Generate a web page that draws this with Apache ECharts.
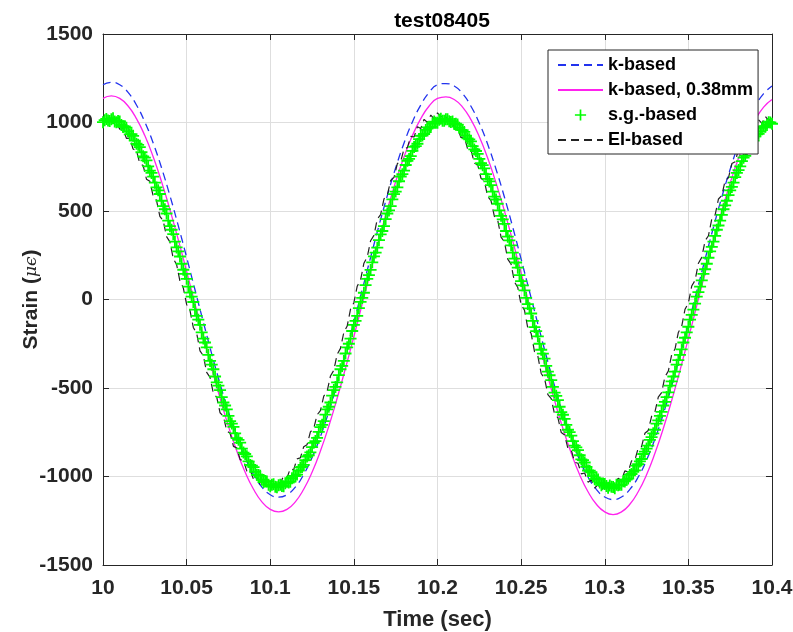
<!DOCTYPE html>
<html>
<head>
<meta charset="utf-8">
<script src="https://cdn.jsdelivr.net/npm/echarts@6/dist/echarts.min.js"></script>
<style>
  html, body { margin: 0; padding: 0; background: #fff; }
  #main { width: 793px; height: 632px; }
</style>
</head>
<body>
<div id="main"></div>
<script>
// tick labels
var xTicks = [10, 10.05, 10.1, 10.15, 10.2, 10.25, 10.3, 10.35, 10.4];
var yTicks = [-1500, -1000, -500, 0, 500, 1000, 1500];

// k-based curves, sampled every 0.005 s from 10.000 to 10.400
var kBased = [1213, 1227, 1213, 1170, 1099, 1003, 884, 744, 587, 417,
    238, 55, -128, -307, -477, -634, -774, -893, -989, -1060,
    -1103, -1117, -1103, -1060, -989, -893, -774, -634, -477, -307,
    -128, 55, 238, 417, 587, 744, 884, 1003, 1099, 1170,
    1213, 1220, 1206, 1163, 1092, 996, 877, 736, 579, 408,
    228, 45, -138, -318, -489, -647, -788, -907, -1003, -1073,
    -1116, -1130, -1116, -1073, -1003, -907, -788, -647, -489, -318,
    -138, 45, 228, 408, 579, 736, 877, 996, 1092, 1163, 1206];

var kBased038 = [1136, 1150, 1136, 1093, 1022, 926, 806, 666, 508, 338,
    159, -25, -209, -388, -558, -716, -856, -976, -1072, -1143,
    -1186, -1200, -1186, -1143, -1072, -976, -856, -716, -558, -388,
    -209, -25, 159, 338, 508, 666, 806, 926, 1022, 1093,
    1136, 1145, 1130, 1087, 1016, 920, 799, 659, 501, 330,
    150, -35, -220, -400, -571, -729, -869, -990, -1086, -1157,
    -1200, -1215, -1200, -1157, -1086, -990, -869, -729, -571, -400,
    -220, -35, 150, 330, 501, 659, 799, 920, 1016, 1087, 1130];

// s.g. based, sampled every 0.001 s from 10.000 to 10.400
var sgBased = [1002, 1013, 1020, 1011, 1009, 1018, 1024, 1006, 1001, 1008,
    1006, 986, 975, 978, 971, 950, 933, 934, 925, 898,
    880, 874, 861, 832, 809, 801, 786, 752, 728, 715,
    694, 660, 633, 617, 596, 558, 528, 510, 486, 446,
    414, 394, 369, 327, 294, 272, 243, 202, 168, 145,
    117, 73, 39, 16, -14, -57, -92, -114, -143, -186,
    -221, -243, -270, -313, -347, -368, -394, -435, -468, -487,
    -512, -551, -582, -599, -621, -658, -687, -701, -720, -756,
    -783, -793, -809, -842, -865, -873, -886, -915, -935, -939,
    -947, -974, -990, -991, -996, -1018, -1031, -1027, -1028, -1046,
    -1055, -1047, -1044, -1058, -1061, -1050, -1046, -1054, -1055, -1038,
    -1030, -1034, -1029, -1010, -997, -998, -989, -966, -949, -946,
    -934, -907, -887, -880, -864, -834, -810, -800, -782, -748,
    -721, -708, -687, -650, -621, -606, -582, -543, -512, -494,
    -468, -427, -394, -375, -347, -305, -270, -250, -221, -178,
    -143, -121, -92, -49, -13, 9, 38, 81, 117, 138,
    167, 210, 244, 265, 293, 335, 368, 387, 414, 454,
    486, 503, 528, 566, 595, 610, 633, 668, 695, 708,
    728, 760, 784, 794, 810, 840, 862, 867, 880, 906,
    924, 926, 935, 958, 972, 970, 975, 994, 1005, 998,
    999, 1015, 1021, 1010, 1010, 1019, 1018, 1007, 1003, 1006,
    992, 993, 988, 970, 958, 957, 947, 926, 910, 905,
    893, 867, 848, 839, 823, 794, 770, 759, 741, 708,
    682, 667, 646, 610, 581, 565, 541, 503, 473, 453,
    427, 387, 355, 334, 306, 265, 231, 209, 180, 138,
    104, 80, 51, 9, -26, -50, -79, -121, -156, -179,
    -208, -250, -284, -306, -334, -375, -408, -428, -455, -494,
    -526, -544, -569, -606, -636, -651, -674, -708, -736, -749,
    -769, -800, -826, -835, -851, -880, -903, -908, -921, -946,
    -966, -967, -976, -998, -1015, -1011, -1017, -1034, -1049, -1039,
    -1042, -1054, -1064, -1051, -1058, -1060, -1066, -1047, -1050, -1046,
    -1047, -1027, -1028, -1018, -1012, -991, -986, -974, -965, -939,
    -930, -915, -901, -873, -860, -842, -825, -793, -777, -756,
    -736, -701, -683, -658, -635, -599, -578, -551, -525, -487,
    -463, -435, -407, -368, -342, -313, -282, -243, -216, -186,
    -154, -114, -87, -57, -23, 16, 42, 73, 108, 145,
    171, 202, 236, 272, 297, 327, 360, 394, 418, 446,
    478, 510, 532, 558, 590, 617, 636, 660, 691, 715,
    731, 752, 782, 801, 812, 832, 860, 874, 881, 898,
    922, 933, 936, 950, 970, 978, 976, 986, 1002, 1000, 993];

// EI based, sampled every 0.002 s from 10.000 to 10.400
var eiBased = [1035, 1008, 1030, 995, 1004, 962, 966, 910, 912,
    850, 842, 768, 757, 680, 668, 585, 560, 470, 445,
    355, 326, 232, 198, 104, 66, -28, -62, -158, -190,
    -290, -318, -412, -440, -530, -552, -640, -660, -742, -755,
    -830, -838, -905, -910, -970, -962, -1016, -1003, -1046, -1025,
    -1058, -1032, -1052, -1024, -1040, -996, -1008, -955, -962, -900,
    -895, -832, -820, -748, -730, -652, -628, -546, -520, -432,
    -400, -310, -276, -185, -150, -55, -18, 75, 110, 205,
    240, 332, 362, 455, 480, 568, 590, 672, 690, 768,
    780, 852, 858, 922, 918, 976, 966, 1018, 1000, 1042,
    1020, 1055, 1030, 1048, 1015, 1020, 975, 972, 915, 920,
    850, 848, 770, 762, 685, 670, 582, 558, 470, 448,
    352, 326, 228, 200, 100, 68, -30, -60, -162, -192,
    -295, -320, -418, -445, -538, -560, -648, -668, -752, -765,
    -842, -850, -920, -925, -985, -980, -1032, -1020, -1065, -1045,
    -1078, -1050, -1072, -1040, -1055, -1010, -1022, -968, -975, -912,
    -908, -840, -832, -756, -740, -660, -636, -552, -526, -436,
    -405, -312, -280, -186, -152, -55, -20, 76, 108, 205,
    238, 332, 360, 455, 478, 568, 588, 672, 688, 768,
    778, 850, 856, 920, 915, 975, 962, 1015, 995, 1035, 1010, 1028];

function pairs(start, step, values) {
    var out = [];
    for (var i = 0; i < values.length; i++) {
        out.push([+(start + i * step).toFixed(3), values[i]]);
    }
    return out;
}

var chart = echarts.init(document.getElementById('main'));
var axisColor = '#262626';
var font = 'Liberation Sans, Arial, sans-serif';
var plusPath = 'path://M4.25,0h1.5v4.25h4.25v1.5h-4.25v4.25h-1.5v-4.25h-4.25v-1.5h4.25z';

var option = {
    backgroundColor: '#fff',
    animation: false,
    title: {
        text: 'test08405',
        left: 437, top: 6, textAlign: 'center',
        textStyle: { fontFamily: font, fontWeight: 'bold', fontSize: 21, color: '#000' }
    },
    grid: { left: 103, right: 21, top: 34, bottom: 67, outerBoundsMode: 'none' },
    legend: {
        orient: 'vertical',
        left: 548, top: 50,
        padding: [5, 5, 4, 9],
        itemGap: 5,
        itemWidth: 45,
        itemHeight: 14,
        borderColor: axisColor,
        borderWidth: 1,
        backgroundColor: '#fff',
        textStyle: { fontFamily: font, fontWeight: 'bold', fontSize: 18, color: '#000', lineHeight: 20 },
        data: [
            { name: 'k-based', itemStyle: { opacity: 0 } },
            { name: 'k-based, 0.38mm', itemStyle: { opacity: 0 } },
            { name: 's.g.-based' },
            { name: 'EI-based', itemStyle: { opacity: 0 } }
        ]
    },
    xAxis: [{
        type: 'value', min: xTicks[0], max: xTicks[xTicks.length - 1], interval: 0.05,
        name: 'Time (sec)', nameLocation: 'middle', nameGap: 44, nameMoveOverlap: false,
        nameTextStyle: { fontFamily: font, fontWeight: 'bold', fontSize: 22, color: axisColor },
        axisLine: { onZero: false, lineStyle: { color: axisColor, width: 1 } },
        axisTick: { inside: true, length: 6, lineStyle: { color: axisColor } },
        axisLabel: {
            margin: 13, fontFamily: font, fontWeight: 'bold', fontSize: 21, color: axisColor,
            formatter: function (v) { return String(parseFloat(v.toFixed(3))); }
        },
        splitLine: { show: true, lineStyle: { color: '#dedede', width: 1 } }
    }, {
        type: 'value', position: 'top', min: xTicks[0], max: xTicks[xTicks.length - 1], interval: 0.05,
        axisLine: { onZero: false, lineStyle: { color: axisColor, width: 1 } },
        axisTick: { inside: true, length: 6, lineStyle: { color: axisColor } },
        axisLabel: { show: false },
        splitLine: { show: false }
    }],
    yAxis: [{
        type: 'value', min: yTicks[0], max: yTicks[yTicks.length - 1], interval: 500,
        name: '{a|Strain (}{b|μϵ}{a|)}', nameLocation: 'middle', nameGap: 61, nameMoveOverlap: false,
        nameTextStyle: {
            color: axisColor,
            rich: {
                a: { fontFamily: font, fontWeight: 'bold', fontSize: 21, color: axisColor },
                b: { fontFamily: 'DejaVu Serif, serif', fontStyle: 'italic', fontSize: 17, color: axisColor }
            }
        },
        axisLine: { onZero: false, show: true, lineStyle: { color: axisColor, width: 1 } },
        axisTick: { show: true, inside: true, length: 6, lineStyle: { color: axisColor } },
        axisLabel: {
            margin: 10, fontFamily: font, fontWeight: 'bold', fontSize: 21, color: axisColor,
            formatter: function (v) { return String(v); }
        },
        splitLine: { show: true, lineStyle: { color: '#dedede', width: 1 } }
    }, {
        type: 'value', position: 'right', min: yTicks[0], max: yTicks[yTicks.length - 1], interval: 500,
        axisLine: { onZero: false, show: true, lineStyle: { color: axisColor, width: 1 } },
        axisTick: { show: true, inside: true, length: 6, lineStyle: { color: axisColor } },
        axisLabel: { show: false },
        splitLine: { show: false }
    }],
    series: [{
        name: 'k-based', type: 'line', smooth: true, symbol: 'none',
        data: pairs(10, 0.005, kBased),
        lineStyle: { color: '#2233ee', width: 1.3, type: [8, 5] },
        itemStyle: { color: '#2233ee' }
    }, {
        name: 'k-based, 0.38mm', type: 'line', smooth: true, symbol: 'none',
        data: pairs(10, 0.005, kBased038),
        lineStyle: { color: '#ff22ee', width: 1.3 },
        itemStyle: { color: '#ff22ee' }
    }, {
        name: 's.g.-based', type: 'line', symbol: plusPath, symbolSize: 12, showSymbol: true,
        showAllSymbol: true,
        data: pairs(10, 0.001, sgBased),
        lineStyle: { width: 0, opacity: 0 },
        itemStyle: { color: '#00ff00' }
    }, {
        name: 'EI-based', type: 'line', symbol: 'none',
        data: pairs(10, 0.002, eiBased),
        lineStyle: { color: '#222', width: 1.2, type: [8, 5] },
        itemStyle: { color: '#222' }
    }]
};

chart.setOption(option);
</script>
</body>
</html>
